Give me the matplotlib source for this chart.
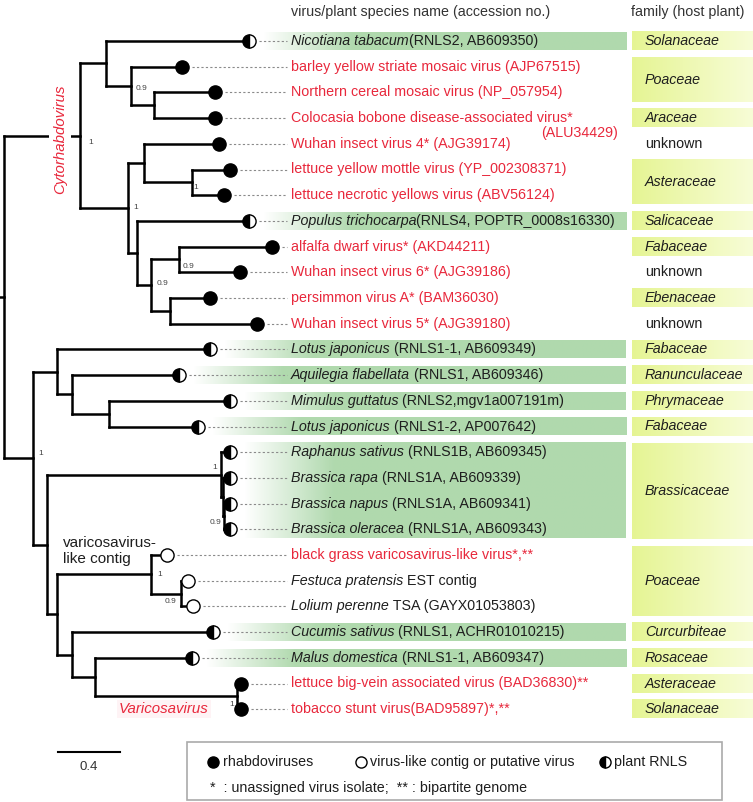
import numpy as np
import matplotlib
matplotlib.use("Agg")
import matplotlib.pyplot as plt

plt.rcParams['font.family'] = ['Liberation Sans', 'DejaVu Sans']

# tree with branch lengths (substitutions/site), tips are row numbers
newick = ("(((0:0.92,(1:0.33,(2:0.39,3:0.39)C:0.15)B:0.16)T:0.17,"
          "((4:0.49,(5:0.25,6:0.21)G:0.31)E:0.10,"
          "(7:0.72,((8:0.60,9:0.39)I:0.18,(10:0.26,11:0.56)J:0.12)H:0.09)F:0.06)D:0.31)A:0.49,"
          "((12:0.99,(13:0.69,(14:0.78,15:0.57)O:0.24)N:0.10)L:0.15,"
          "((16:0.06,(17:0.05,(18:0.04,19:0.04)S:0.01)R:0.01)Q:1.12,"
          "((20:0.10,(21:0.05,22:0.08)V:0.19)T2:0.61,"
          "(23:0.91,(24:0.62,(25:0.03,26:0.03)X:0.91)W:0.15)U:0.10)P:0.06)M:0.09)K:0.19)root;")

support = {'A': '1', 'B': '0.9', 'G': '1', 'D': '1', 'I': '0.9', 'H': '0.9',
           'K': '1', 'Q': '1', 'S': '0.9', 'T2': '1', 'V': '0.9', 'X': '1'}

# (italic part, plain part)
names = [
    ("Nicotiana tabacum", "(RNLS2, AB609350)"),
    ("", "barley yellow striate mosaic virus (AJP67515)"),
    ("", "Northern cereal mosaic virus (NP_057954)"),
    ("", "Colocasia bobone disease-associated virus*"),
    ("", "Wuhan insect virus 4* (AJG39174)"),
    ("", "lettuce yellow mottle virus (YP_002308371)"),
    ("", "lettuce necrotic yellows virus (ABV56124)"),
    ("Populus trichocarpa", "(RNLS4, POPTR_0008s16330)"),
    ("", "alfalfa dwarf virus* (AKD44211)"),
    ("", "Wuhan insect virus 6* (AJG39186)"),
    ("", "persimmon virus A* (BAM36030)"),
    ("", "Wuhan insect virus 5* (AJG39180)"),
    ("Lotus japonicus", " (RNLS1-1, AB609349)"),
    ("Aquilegia flabellata", " (RNLS1, AB609346)"),
    ("Mimulus guttatus", " (RNLS2,mgv1a007191m)"),
    ("Lotus japonicus", " (RNLS1-2, AP007642)"),
    ("Raphanus sativus", " (RNLS1B, AB609345)"),
    ("Brassica rapa", " (RNLS1A, AB609339)"),
    ("Brassica napus", " (RNLS1A, AB609341)"),
    ("Brassica oleracea", " (RNLS1A, AB609343)"),
    ("", "black grass varicosavirus-like virus*,**"),
    ("Festuca pratensis", " EST contig"),
    ("Lolium perenne", " TSA (GAYX01053803)"),
    ("Cucumis sativus", " (RNLS1, ACHR01010215)"),
    ("Malus domestica", " (RNLS1-1, AB609347)"),
    ("", "lettuce big-vein associated virus (BAD36830)**"),
    ("", "tobacco stunt virus(BAD95897)*,**"),
]
# r = rhabdovirus, c = virus-like contig, p = plant RNLS
kinds = list("prrrrrrprrrrppppppppcccpprr")
red_text = [1, 2, 3, 4, 5, 6, 8, 9, 10, 11, 20, 25, 26]

families = [(0, 0, "Solanaceae"), (1, 2, "Poaceae"), (3, 3, "Araceae"), (4, 4, "unknown"),
            (5, 6, "Asteraceae"), (7, 7, "Salicaceae"), (8, 8, "Fabaceae"), (9, 9, "unknown"),
            (10, 10, "Ebenaceae"), (11, 11, "unknown"), (12, 12, "Fabaceae"),
            (13, 13, "Ranunculaceae"), (14, 14, "Phrymaceae"), (15, 15, "Fabaceae"),
            (16, 19, "Brassicaceae"), (20, 22, "Poaceae"), (23, 23, "Curcurbiteae"),
            (24, 24, "Rosaceae"), (25, 25, "Asteraceae"), (26, 26, "Solanaceae")]
green_bands = [(0, 0), (7, 7), (12, 12), (13, 13), (14, 14), (15, 15), (16, 19), (23, 23), (24, 24)]


def parse(s):
    pos = 0

    def node():
        nonlocal pos
        kids = []
        if s[pos] == '(':
            pos += 1
            kids.append(node())
            while s[pos] == ',':
                pos += 1
                kids.append(node())
            pos += 1
        st = pos
        while s[pos] not in ',():;':
            pos += 1
        name = s[st:pos]
        bl = 0.0
        if s[pos] == ':':
            pos += 1
            st = pos
            while s[pos] not in ',();':
                pos += 1
            bl = float(s[st:pos])
        return {'name': name, 'bl': bl, 'kids': kids}
    return node()


def layout(n, x0=0.0):
    n['x'] = x0 + n['bl']
    for k in n['kids']:
        layout(k, n['x'])
    if n['kids']:
        n['y'] = (n['kids'][0]['y'] + n['kids'][-1]['y']) / 2
    else:
        n['y'] = int(n['name'])


tree = parse(newick)
tree['bl'] = 0.0
layout(tree)

# pixel helpers (figure is 753 x 802 px)
W, H = 753, 802
X0, UNIT = 4, 155.0
Y0, ROW = 41, 25.7


def px(v):
    return (v - X0) / UNIT


def py(v):
    return (v - Y0) / ROW


RED = '#e8283c'
DARK = '#1e1e1e'
FS = 10.3

fig = plt.figure(figsize=(W / 100, H / 100), dpi=100)
ax = fig.add_axes([0, 0, 1, 1])
ax.set_xlim(px(0), px(W))
ax.set_ylim(py(H), py(0))
ax.axis('off')

# branches
nodes = []


def walk(n):
    nodes.append(n)
    for k in n['kids']:
        walk(k)


walk(tree)
for n in nodes:
    if n['kids']:
        ax.plot([n['x'], n['x']], [n['kids'][0]['y'], n['kids'][-1]['y']], color='black', lw=1.8,
                solid_capstyle='projecting', zorder=3)
        for k in n['kids']:
            ax.plot([n['x'], k['x']], [k['y'], k['y']], color='black', lw=1.8,
                    solid_capstyle='projecting', zorder=3)
ax.plot([px(0), tree['x']], [tree['y'], tree['y']], color='black', lw=1.8, zorder=3)

sup_pos = {'A': (8, 7, 'left'), 'B': (5, 3, 'left'), 'G': (2, 5, 'left'), 'D': (5, -1, 'left'),
           'I': (3, 7, 'left'), 'H': (5, -2, 'left'), 'K': (5, -5, 'left'), 'Q': (-4, -7, 'right'),
           'S': (-3, 6, 'right'), 'T2': (6, 0, 'left'), 'V': (-4, 8, 'right'), 'X': (-2, 8, 'right')}
for n in nodes:
    if n['name'] in support:
        dx, dy, ha = sup_pos[n['name']]
        ax.text(n['x'] + dx / UNIT, n['y'] + dy / ROW, support[n['name']], fontsize=6,
                color='#444444', ha=ha, va='center', zorder=4)

tips = sorted([n for n in nodes if not n['kids']], key=lambda n: n['y'])
tip_x = [n['x'] for n in tips]
LABEL_X = 291

# green gradient bands behind plant RNLS labels
green = np.array([0.60, 0.81, 0.59])
for a, b in green_bands:
    start = min(tip_x[a:b + 1]) * UNIT + X0 + 14
    xs = np.linspace(start, 626, 300)
    alpha = np.clip((xs - start) / 90, 0, 1) * 0.78
    img = np.zeros((1, len(xs), 4))
    img[..., :3] = green
    img[0, :, 3] = alpha
    ax.imshow(img, extent=(px(start), px(626), b + 0.35, a - 0.35), aspect='auto',
              interpolation='bilinear', zorder=0)

# family boxes
for a, b, fam in families:
    if fam != 'unknown':
        xs = np.linspace(0, 1, 100)
        img = np.zeros((1, 100, 3))
        img[0] = np.outer(1 - xs, [0.90, 0.96, 0.58]) + np.outer(xs, [0.97, 0.99, 0.84])
        ax.imshow(img, extent=(px(632), px(W), b + 0.36, a - 0.36), aspect='auto', zorder=0)
    ax.text(px(645), (a + b) / 2, fam, fontsize=FS, color=DARK, va='center',
            style='normal' if fam == 'unknown' else 'italic')

# tips, leaders and labels
for i, n in enumerate(tips):
    x = n['x']
    k = kinds[i]
    if k == 'r':
        ax.plot(x, i, 'o', ms=9.5, mfc='black', mec='black', zorder=5)
    elif k == 'c':
        ax.plot(x, i, 'o', ms=9.5, mfc='white', mec='black', mew=1, zorder=5)
    else:
        ax.plot(x, i, 'o', ms=9.5, fillstyle='left', mfc='black', mfcalt='white',
                mec='black', mew=1, zorder=5)
    ax.plot([x + 10 / UNIT, px(287)], [i, i], color='#8a8a8a', lw=0.8,
            ls=(0, (2, 2)), zorder=2)
    it, plain = names[i]
    col = RED if i in red_text else DARK
    if it:
        t1 = ax.text(px(LABEL_X), i, it, fontsize=FS, style='italic', color=col, va='center', zorder=4)
        ax.annotate(plain, xy=(1, 0), xycoords=t1, va='bottom', ha='left', fontsize=FS,
                    color=col, zorder=4)
    else:
        ax.text(px(LABEL_X), i, plain, fontsize=FS, color=col, va='center', zorder=4)

ax.text(px(541), py(133), "(ALU34429)", fontsize=FS, color=RED, va='center')

# headers
ax.text(px(LABEL_X), py(12), "virus/plant species name (accession no.)", fontsize=FS,
        color='#333333', va='center')
ax.text(px(631), py(12), "family (host plant)", fontsize=FS, color='#333333', va='center')

# clade labels
ax.text(px(60), py(139), "Cytorhabdovirus", rotation=90, fontsize=10.8, style='italic',
        color=RED, ha='center', va='center', zorder=6,
        bbox=dict(fc='white', ec='none', pad=3))
ax.text(px(164), py(709), "Varicosavirus", fontsize=10.8, style='italic', color=RED,
        ha='center', va='center', bbox=dict(fc='#fef3f5', ec='none', pad=1.5))
ax.text(px(63), py(551), "varicosavirus-\nlike contig", fontsize=11, color=DARK,
        va='center', linespacing=1.15)

# scale bar
scale = 0.4
ax.plot([px(58), px(58) + scale], [py(752), py(752)], color='black', lw=1.5)
ax.text(px(58) + scale / 2, py(767), "0.4", fontsize=9.5, color='#333333', ha='center', va='center')

# legend
ax.add_patch(plt.Rectangle((px(187), py(742)), px(722) - px(187), py(800) - py(742),
                           fc='white', ec='#aaaaaa', lw=1.2, zorder=1))
ax.plot(px(213), py(762), 'o', ms=8, mfc='black', mec='black')
ax.text(px(223), py(762), "rhabdoviruses", fontsize=FS, color=DARK, va='center')
ax.plot(px(361), py(762), 'o', ms=8, mfc='white', mec='black', mew=1)
ax.text(px(370), py(762), "virus-like contig or putative virus", fontsize=FS, color=DARK, va='center')
ax.plot(px(605), py(762), 'o', ms=8, fillstyle='left', mfc='black', mfcalt='white', mec='black', mew=1)
ax.text(px(614), py(762), "plant RNLS", fontsize=FS, color=DARK, va='center')
ax.text(px(210), py(788), "*  : unassigned virus isolate;  ** : bipartite genome", fontsize=FS,
        color=DARK, va='center')

fig.savefig('out.png', dpi=100)
